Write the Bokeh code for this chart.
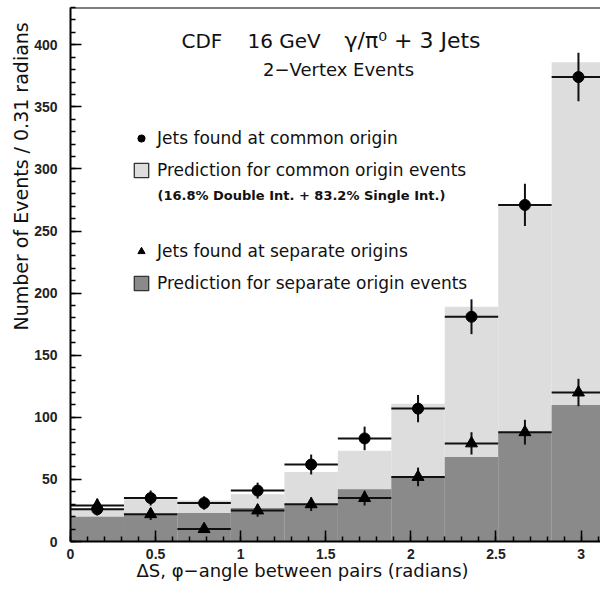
import numpy as np
from bokeh.plotting import figure
from bokeh.models import Range1d, SingleIntervalTicker, Label, Legend, Span, Title
from bokeh.embed import file_html
from bokeh.resources import INLINE

# ---- data ----
bin_left = [0.0, 0.314, 0.628, 0.942, 1.257, 1.571, 1.885, 2.199, 2.513, 2.827]
bin_right = [0.314, 0.628, 0.942, 1.257, 1.571, 1.885, 2.199, 2.513, 2.827, 3.142]
pred_common = [27, 34, 33, 38, 56, 73, 111, 189, 270, 386]
pred_separate = [20, 22, 23, 27, 30, 42, 52, 68, 88, 110]
jets_common = [26, 35, 31, 41, 62, 83, 107, 181, 271, 374]
jets_common_err = [5, 6, 5.5, 6.4, 8, 9.5, 11, 14, 17, 19.5]
jets_separate = [29, 22, 10, 25, 30, 35, 52, 79, 88, 120]
jets_separate_err = [5.4, 4.7, 3.2, 5, 5.5, 6, 7.5, 9, 10, 11]

LIGHT = "#dddddd"
DARK = "#8a8a8a"
INK = "#111111"
FONT = "DejaVu Sans"

centers = [(a + b) / 2 for a, b in zip(bin_left, bin_right)]

FRAME_LEFT, FRAME_BOTTOM = 70, 541

p = figure(width=600, height=598, output_backend="svg", toolbar_location=None,
           x_range=Range1d(0, 3.114), y_range=Range1d(0, 430),
           min_border_left=FRAME_LEFT, min_border_right=0, min_border_top=7,
           min_border_bottom=598 - FRAME_BOTTOM)
p.outline_line_color = None
p.xgrid.visible = False
p.ygrid.visible = False
p.background_fill_color = "white"
p.border_fill_color = "white"

# histograms
p.quad(left=bin_left, right=bin_right, bottom=0, top=pred_common,
       fill_color=LIGHT, line_color=None)
p.quad(left=bin_left, right=bin_right, bottom=0, top=pred_separate,
       fill_color=DARK, line_color=None)

# legend proxies (hidden renderers with an outlined swatch)
px_light = p.quad(left=bin_left, right=bin_right, bottom=0, top=pred_common,
                  fill_color=LIGHT, line_color="#333333", line_width=1.3, visible=False)
px_dark = p.quad(left=bin_left, right=bin_right, bottom=0, top=pred_separate,
                 fill_color=DARK, line_color="#333333", line_width=1.3, visible=False)

# error bars
for vals, errs in ((jets_common, jets_common_err), (jets_separate, jets_separate_err)):
    p.segment(x0=bin_left, x1=bin_right, y0=vals, y1=vals, line_color=INK, line_width=2)
    p.segment(x0=centers, x1=centers,
              y0=[v - e for v, e in zip(vals, errs)], y1=[v + e for v, e in zip(vals, errs)],
              line_color=INK, line_width=2)

r_circ = p.scatter(centers, jets_common, marker="circle", size=11, fill_color="black", line_color="black")
r_tri = p.scatter(centers, jets_separate, marker="triangle", size=12, fill_color="black", line_color="black")

# axes
for ax in (p.xaxis[0], p.yaxis[0]):
    ax.axis_line_width = 2
    ax.axis_line_color = "black"
    ax.major_tick_in = 11
    ax.major_tick_out = 0
    ax.minor_tick_in = 5
    ax.minor_tick_out = 0
    ax.major_tick_line_width = 1.5
    ax.minor_tick_line_width = 1.5
    ax.major_label_text_font = "Liberation Sans"
    ax.major_label_text_font_size = "14px"
    ax.major_label_text_font_style = "bold"
    ax.major_label_text_color = "#222222"
p.xaxis.ticker = SingleIntervalTicker(interval=0.5, num_minor_ticks=5)
p.yaxis.ticker = SingleIntervalTicker(interval=50, num_minor_ticks=5)
p.xaxis.major_label_standoff = 7
p.yaxis.major_label_standoff = 13

p.add_layout(Span(location=430, dimension="width", line_color="black", line_width=2))

# axis titles (placed as side-panel titles so that they can be offset)
p.add_layout(Title(text="\u0394S, \u03c6\u2212angle between pairs (radians)", align="left",
                   offset=66, standoff=-8, text_font=FONT, text_font_size="18px",
                   text_font_style="normal", text_color=INK), "below")
p.add_layout(Title(text="Number of Events / 0.31 radians", align="left",
                   offset=211, standoff=0, text_font=FONT, text_font_size="19px",
                   text_font_style="normal", text_color=INK), "left")

# legends
leg_kw = dict(border_line_color=None, background_fill_alpha=0, padding=0, margin=0,
              spacing=12, glyph_width=18, glyph_height=18, label_standoff=7,
              label_text_font=FONT, label_text_font_size="17px", label_height=18,
              label_text_color=INK, inactive_fill_alpha=0)
leg1 = Legend(items=[("Jets found at common origin", [r_circ]),
                     ("Prediction for common origin events", [px_light])],
              location=(62, 361), **leg_kw)
leg2 = Legend(items=[("Jets found at separate origins", [r_tri]),
                     ("Prediction for separate origin events", [px_dark])],
              location=(62, 248), **leg_kw)
p.add_layout(leg1)
p.add_layout(leg2)

def lab(text, x, y_top, size, align="left", bold=False):
    # positions given in canvas pixels from the top-left; converted to frame screen units
    p.add_layout(Label(x=x - FRAME_LEFT, y=FRAME_BOTTOM - y_top, x_units="screen", y_units="screen",
                       text=text, text_font=FONT, text_font_size=size, text_align=align,
                       text_baseline="alphabetic", text_color=INK,
                       text_font_style="bold" if bold else "normal"))

lab("CDF", 181, 40, "20px")
lab("16 GeV", 247, 40, "20px")
lab("\u03b3/\u03c0\u2070 + 3 Jets", 344, 40, "22px")
lab("2\u2212Vertex Events", 338, 69, "18px", align="center")
lab("(16.8% Double Int. + 83.2% Single Int.)", 157, 195, "13px", bold=True)

open("out.html", "w").write(file_html(p, INLINE))
